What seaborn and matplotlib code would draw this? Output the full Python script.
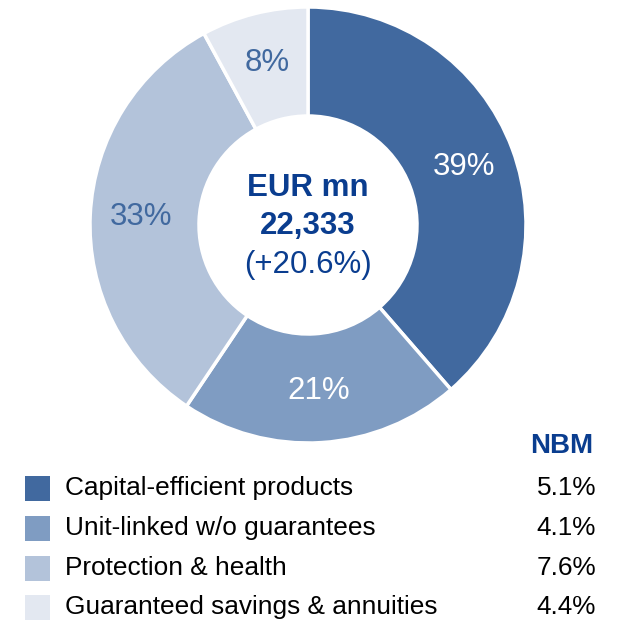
import matplotlib
matplotlib.use("Agg")
import matplotlib.pyplot as plt
import seaborn as sns
from matplotlib.patches import Rectangle

sns.set_theme(style="white")
plt.rcParams['font.family'] = ['Liberation Sans', 'DejaVu Sans']

categories = ["Capital-efficient products", "Unit-linked w/o guarantees",
              "Protection & health", "Guaranteed savings & annuities"]
shares = [39, 21, 33, 8]
share_labels = ["39%", "21%", "33%", "8%"]
nbm = ["5.1%", "4.1%", "7.6%", "4.4%"]
colors = ["#41699F", "#7F9CC2", "#B3C3DA", "#E3E8F1"]
label_colors = ["white", "white", "#41699F", "#41699F"]
navy = "#0A3D8F"

W = H = 623
fig = plt.figure(figsize=(W / 100, H / 100), dpi=100)

cx, cy, R = 308, 225, 218
ax = fig.add_axes([(cx - R) / W, (H - cy - R) / H, 2 * R / W, 2 * R / H])
wedges, texts = ax.pie(shares, colors=colors, startangle=90, counterclock=False,
                       radius=1.0, labels=share_labels, labeldistance=0.765,
                       wedgeprops=dict(width=0.5, edgecolor="white", linewidth=2.5),
                       textprops=dict(fontsize=22.5))
for t, c in zip(texts, label_colors):
    t.set_color(c)
    t.set_ha("center")
    t.set_va("center")
ax.set_xlim(-1, 1)
ax.set_ylim(-1, 1)
ax.set_aspect("equal")
ax.axis("off")

ax.text(0, 0.17, "EUR mn", ha="center", va="center", fontsize=22.5,
        fontweight="bold", color=navy)
ax.text(0, -0.005, "22,333", ha="center", va="center", fontsize=22.5,
        fontweight="bold", color=navy)
ax.text(0, -0.185, "(+20.6%)", ha="center", va="center", fontsize=22.5,
        color=navy)

lax = fig.add_axes([0, 0, 1, 1])
lax.set_xlim(0, W)
lax.set_ylim(H, 0)
lax.axis("off")
lax.patch.set_alpha(0)

lax.text(593, 446, "NBM", ha="right", va="center", fontsize=20,
         fontweight="bold", color=navy)
row_y = [488, 528, 568, 607]
for i, (cat, val, col) in enumerate(zip(categories, nbm, colors)):
    y = row_y[i]
    lax.add_patch(Rectangle((25, y - 12.5), 25, 25, facecolor=col, edgecolor="none"))
    lax.text(65, y, cat, ha="left", va="center", fontsize=18.9, color="black")
    lax.text(596, y, val, ha="right", va="center", fontsize=18.8, color="black")

fig.savefig("out.png", dpi=100)
